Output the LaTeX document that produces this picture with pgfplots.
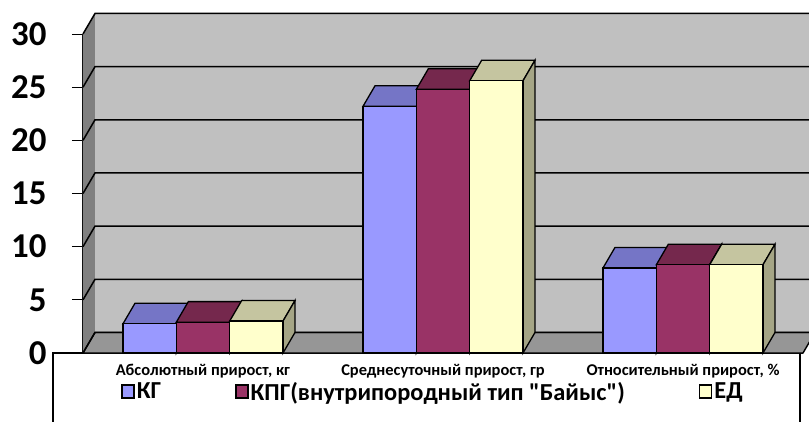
\documentclass[border=0pt]{standalone}
\usepackage{pgfplots}
\pgfplotsset{compat=1.18}
\usepackage{pgfplotstable}
\usepackage{fontspec}
\setmainfont{Carlito}[Ligatures=TeXOff]
\definecolor{kgf}{HTML}{9999FF}
\definecolor{kgt}{HTML}{7575C6}
\definecolor{kgs}{HTML}{6060A0}
\definecolor{kpgf}{HTML}{993366}
\definecolor{kpgt}{HTML}{75284D}
\definecolor{kpgs}{HTML}{5F2142}
\definecolor{edf}{HTML}{FFFFCC}
\definecolor{edt}{HTML}{C5C5A0}
\definecolor{eds}{HTML}{A5A585}
\definecolor{wallc}{HTML}{C0C0C0}
\definecolor{floorc}{HTML}{969696}
\definecolor{sidec}{HTML}{808080}
\pgfplotstableread{
x KG KPG ED
0 2.75 2.9 3.0
1 23.2 24.8 25.6
2 8.0 8.3 8.3
}\data
\begin{document}
\begin{tikzpicture}
\begin{axis}[
  name=ax,
  scale only axis,
  width=720bp, height=319bp,
  xmin=-0.5, xmax=2.5, ymin=0, ymax=30,
  clip=false,
  axis lines*=left,
  axis line style={line width=1.4bp},
  ytick={0,5,...,30},
  major tick length=11bp,
  tick align=outside,
  y tick style={line width=1bp, black},
  /pgf/number format/assume math mode=true,
  yticklabel style={font=\fontsize{35}{35}\selectfont\bfseries, xshift=-22bp},
  xtick={0,1,2},
  xticklabels={{Абсолютный прирост, кг}, {Среднесуточный прирост, гр}, {Относительный прирост, \%}},
  x tick style={draw=none},
  xticklabel style={font=\fontsize{16.5}{16.5}\selectfont\bfseries, yshift=1bp, inner sep=1bp},
  extra x ticks={0.5,1.5,2.5},
  extra x tick labels={},
  extra x tick style={major tick length=5bp, tick style={draw=black, line width=1bp}},
  legend columns=3,
  legend style={at={(0.0486,-0.1215)}, anchor=west, draw=none, fill=none,
    font=\fontsize{24.5}{24.5}\selectfont\bfseries,
    /tikz/every even column/.append style={column sep=72bp}},
  legend image code/.code={\draw[#1, line width=1.6bp] (0bp,-6.5bp) rectangle (12bp,6.5bp);},
]
% walls
\addplot[fill=wallc, draw=none, forget plot] coordinates {(-0.45,1.93) (2.6,1.93) (2.6,31.93) (-0.45,31.93)} -- cycle;
\addplot[fill=sidec, draw=none, forget plot] coordinates {(-0.5,0) (-0.45,1.93) (-0.45,31.93) (-0.5,30)} -- cycle;
\addplot[fill=floorc, draw=black, line width=1.4bp, forget plot] coordinates {(-0.5,0) (2.5,0) (2.55,1.93) (-0.45,1.93)} -- cycle;
% gridlines
\addplot[black, line width=1.5bp, forget plot] coordinates {(-0.5,0) (-0.45,1.93) (2.6,1.93)};
\addplot[black, line width=1.5bp, forget plot] coordinates {(-0.5,5) (-0.45,6.93) (2.6,6.93)};
\addplot[black, line width=1.5bp, forget plot] coordinates {(-0.5,10) (-0.45,11.93) (2.6,11.93)};
\addplot[black, line width=1.5bp, forget plot] coordinates {(-0.5,15) (-0.45,16.93) (2.6,16.93)};
\addplot[black, line width=1.5bp, forget plot] coordinates {(-0.5,20) (-0.45,21.93) (2.6,21.93)};
\addplot[black, line width=1.5bp, forget plot] coordinates {(-0.5,25) (-0.45,26.93) (2.6,26.93)};
\addplot[black, line width=1.5bp, forget plot] coordinates {(-0.5,30) (-0.45,31.93) (2.6,31.93)};
% KG tops and sides
\addplot[fill=kgt, draw=black, line width=1.3bp, forget plot] coordinates {(-0.3333,2.75) (-0.1111,2.75) (-0.0611,4.68) (-0.2833,4.68)} -- cycle;
\addplot[fill=kgs, draw=black, line width=1.3bp, forget plot] coordinates {(-0.1111,0) (-0.1111,2.75) (-0.0611,4.68) (-0.0611,1.93)} -- cycle;
\addplot[fill=kgt, draw=black, line width=1.3bp, forget plot] coordinates {(0.6667,23.2) (0.8889,23.2) (0.9389,25.13) (0.7167,25.13)} -- cycle;
\addplot[fill=kgs, draw=black, line width=1.3bp, forget plot] coordinates {(0.8889,0) (0.8889,23.2) (0.9389,25.13) (0.9389,1.93)} -- cycle;
\addplot[fill=kgt, draw=black, line width=1.3bp, forget plot] coordinates {(1.6667,8.0) (1.8889,8.0) (1.9389,9.93) (1.7167,9.93)} -- cycle;
\addplot[fill=kgs, draw=black, line width=1.3bp, forget plot] coordinates {(1.8889,0) (1.8889,8.0) (1.9389,9.93) (1.9389,1.93)} -- cycle;
\addplot[ybar, bar width=0.2222, bar shift=-0.2222, fill=kgf, draw=black, line width=1.3bp] table[x=x, y=KG] {\data};
\addlegendentry{КГ}
% KPG
\addplot[fill=kpgt, draw=black, line width=1.3bp, forget plot] coordinates {(-0.1111,2.9) (0.1111,2.9) (0.1611,4.83) (-0.0611,4.83)} -- cycle;
\addplot[fill=kpgs, draw=black, line width=1.3bp, forget plot] coordinates {(0.1111,0) (0.1111,2.9) (0.1611,4.83) (0.1611,1.93)} -- cycle;
\addplot[fill=kpgt, draw=black, line width=1.3bp, forget plot] coordinates {(0.8889,24.8) (1.1111,24.8) (1.1611,26.73) (0.9389,26.73)} -- cycle;
\addplot[fill=kpgs, draw=black, line width=1.3bp, forget plot] coordinates {(1.1111,0) (1.1111,24.8) (1.1611,26.73) (1.1611,1.93)} -- cycle;
\addplot[fill=kpgt, draw=black, line width=1.3bp, forget plot] coordinates {(1.8889,8.3) (2.1111,8.3) (2.1611,10.23) (1.9389,10.23)} -- cycle;
\addplot[fill=kpgs, draw=black, line width=1.3bp, forget plot] coordinates {(2.1111,0) (2.1111,8.3) (2.1611,10.23) (2.1611,1.93)} -- cycle;
\addplot[ybar, bar width=0.2222, bar shift=0, fill=kpgf, draw=black, line width=1.3bp] table[x=x, y=KPG] {\data};
\addlegendentry{КПГ(внутрипородный тип "Байыс")}
% ED
\addplot[fill=edt, draw=black, line width=1.3bp, forget plot] coordinates {(0.1111,3.0) (0.3333,3.0) (0.3833,4.93) (0.1611,4.93)} -- cycle;
\addplot[fill=eds, draw=black, line width=1.3bp, forget plot] coordinates {(0.3333,0) (0.3333,3.0) (0.3833,4.93) (0.3833,1.93)} -- cycle;
\addplot[fill=edt, draw=black, line width=1.3bp, forget plot] coordinates {(1.1111,25.6) (1.3333,25.6) (1.3833,27.53) (1.1611,27.53)} -- cycle;
\addplot[fill=eds, draw=black, line width=1.3bp, forget plot] coordinates {(1.3333,0) (1.3333,25.6) (1.3833,27.53) (1.3833,1.93)} -- cycle;
\addplot[fill=edt, draw=black, line width=1.3bp, forget plot] coordinates {(2.1111,8.3) (2.3333,8.3) (2.3833,10.23) (2.1611,10.23)} -- cycle;
\addplot[fill=eds, draw=black, line width=1.3bp, forget plot] coordinates {(2.3333,0) (2.3333,8.3) (2.3833,10.23) (2.3833,1.93)} -- cycle;
\addplot[ybar, bar width=0.2222, bar shift=0.2222, fill=edf, draw=black, line width=1.3bp] table[x=x, y=ED] {\data};
\addlegendentry{ЕД}
% legend frame
\draw[black, line width=1.2bp] (rel axis cs:-0.0417,-0.3) -- (rel axis cs:-0.0417,0) -- (rel axis cs:0,0);
\draw[black, line width=1.2bp] (rel axis cs:0.9958,-0.3) -- (rel axis cs:0.9958,0);
\end{axis}
\pgfresetboundingbox
\path[use as bounding box] ([xshift=-83bp,yshift=-68.5bp]ax.south west) rectangle ([xshift=6bp,yshift=34bp]ax.north east);
\end{tikzpicture}
\end{document}
